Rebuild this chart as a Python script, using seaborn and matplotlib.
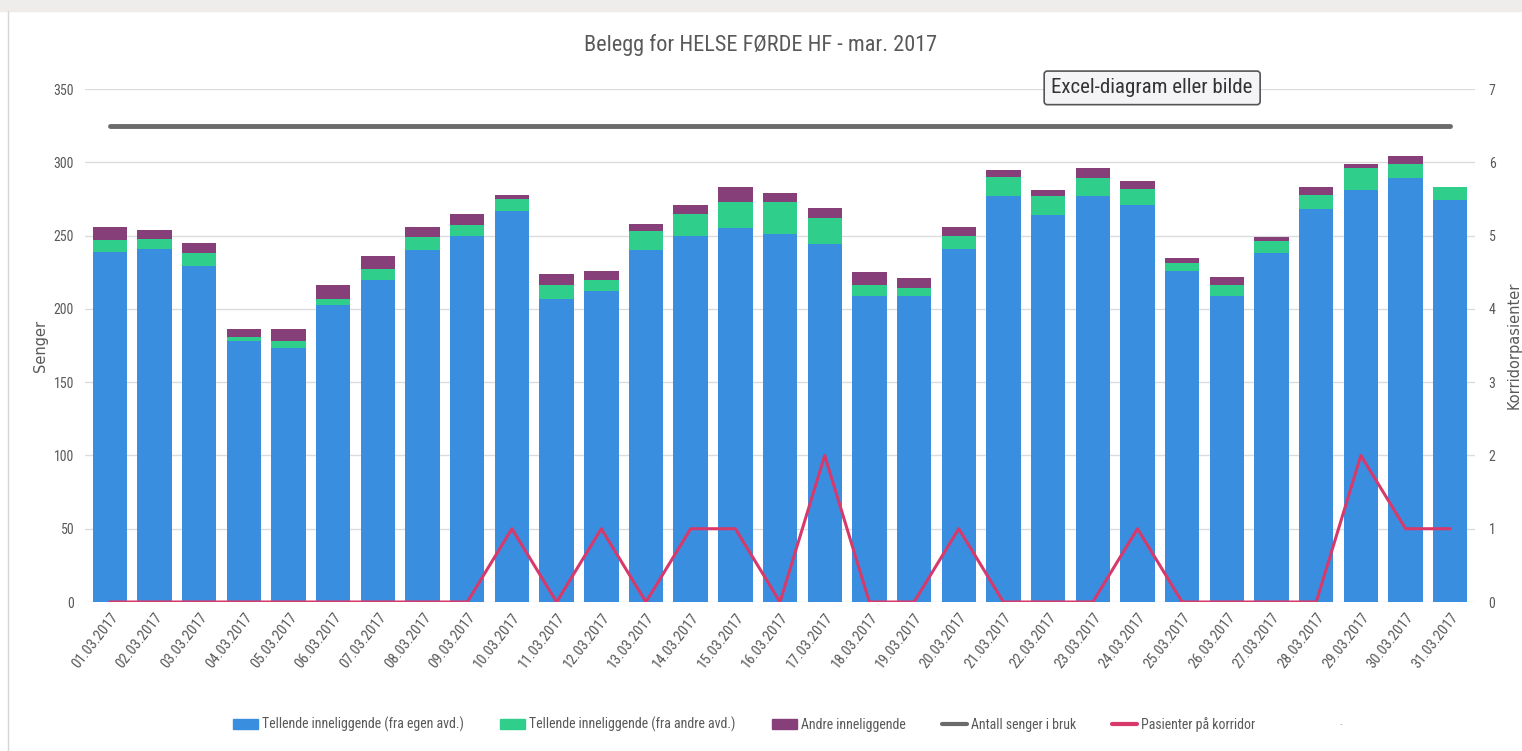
import numpy as np
import pandas as pd
import seaborn as sns
import matplotlib.pyplot as plt
from matplotlib import font_manager
from matplotlib.patches import Patch, Rectangle
from matplotlib.lines import Line2D

# Data
datoer = ["01.03.2017", "02.03.2017", "03.03.2017", "04.03.2017", "05.03.2017",
          "06.03.2017", "07.03.2017", "08.03.2017", "09.03.2017", "10.03.2017",
          "11.03.2017", "12.03.2017", "13.03.2017", "14.03.2017", "15.03.2017",
          "16.03.2017", "17.03.2017", "18.03.2017", "19.03.2017", "20.03.2017",
          "21.03.2017", "22.03.2017", "23.03.2017", "24.03.2017", "25.03.2017",
          "26.03.2017", "27.03.2017", "28.03.2017", "29.03.2017", "30.03.2017",
          "31.03.2017"]
egen_avd = [239, 241, 229, 178, 173, 203, 220, 240, 250, 267,
            207, 212, 240, 250, 255, 251, 244, 209, 209, 241,
            277, 264, 277, 271, 226, 209, 238, 268, 281, 289, 274]
andre_avd = [8, 7, 9, 3, 5, 4, 7, 9, 7, 8,
             9, 8, 13, 15, 18, 22, 18, 7, 5, 9,
             13, 13, 12, 11, 5, 7, 8, 10, 15, 10, 9]
andre_innl = [9, 6, 7, 5, 8, 9, 9, 7, 8, 3,
              8, 6, 5, 6, 10, 6, 7, 9, 7, 6,
              5, 4, 7, 5, 4, 6, 3, 5, 3, 5, 0]
senger_i_bruk = [325, 325, 325, 325, 325, 325, 325, 325, 325, 325,
                 325, 325, 325, 325, 325, 325, 325, 325, 325, 325,
                 325, 325, 325, 325, 325, 325, 325, 325, 325, 325, 325]
korridor = [0, 0, 0, 0, 0, 0, 0, 0, 0, 1,
            0, 1, 0, 1, 1, 0, 2, 0, 0, 1,
            0, 0, 0, 1, 0, 0, 0, 0, 2, 1, 1]

df = pd.DataFrame({"Dato": datoer, "egen": egen_avd, "andre": andre_avd,
                   "innl": andre_innl, "senger": senger_i_bruk, "korridor": korridor})
df["lvl2"] = df["egen"] + df["andre"]
df["lvl3"] = df["lvl2"] + df["innl"]

c_blue = "#3a8ee0"
c_green = "#2fcf8b"
c_purple = "#873f79"
c_gray = "#6a6a6a"
c_red = "#d8396b"
c_text = "#595959"

sns.set_style("white")
# narrow font if available, like the squeezed Excel screenshot
names = {f.name for f in font_manager.fontManager.ttflist}
fams = [n for n in ["Liberation Sans Narrow", "Roboto Condensed", "Open Sans Condensed"] if n in names]
plt.rcParams["font.family"] = fams + ["DejaVu Sans"]
plt.rcParams["font.stretch"] = "condensed"

fig = plt.figure(figsize=(15.22, 7.51), dpi=100)
ax = fig.add_axes([0.056, 0.1984, 0.913, 0.683])

# stacked bars: draw totals first, then smaller levels on top
kw = dict(width=0.77, ax=ax, saturation=1, linewidth=0)
sns.barplot(data=df, x="Dato", y="lvl3", color=c_purple, **kw)
sns.barplot(data=df, x="Dato", y="lvl2", color=c_green, **kw)
sns.barplot(data=df, x="Dato", y="egen", color=c_blue, **kw)

xs = np.arange(len(datoer))
sns.lineplot(x=xs, y=df["senger"], color=c_gray, linewidth=3.5, ax=ax)

ax.set_ylim(0, 350)
ax.set_yticks(range(0, 351, 50))
ax.set_xlim(-0.55, len(datoer) - 0.45)
ax.grid(axis="y", color="#dcdcdc", linewidth=1)
ax.set_axisbelow(True)
for s in ax.spines.values():
    s.set_visible(False)
ax.tick_params(axis="y", length=0, labelsize=10, labelcolor=c_text, pad=8)
ax.tick_params(axis="x", length=0, labelsize=10.5, labelcolor=c_text, pad=6)
plt.setp(ax.get_xticklabels(), rotation=52, ha="right", rotation_mode="anchor")
ax.set_xlabel("")
ax.set_ylabel("Senger", fontsize=10.5, color=c_text, labelpad=4,
              family="DejaVu Sans", fontstretch="normal")

ax2 = ax.twinx()
sns.lineplot(x=xs, y=df["korridor"], color=c_red, linewidth=2.2, ax=ax2)
ax2.set_ylim(0, 7)
ax2.set_yticks(range(0, 8))
for s in ax2.spines.values():
    s.set_visible(False)
ax2.tick_params(axis="y", length=0, labelsize=10, labelcolor=c_text, pad=10)
ax2.set_ylabel("Korridorpasienter", fontsize=10.5, color=c_text, labelpad=8, rotation=90,
               family="DejaVu Sans", fontstretch="normal")

fig.suptitle("Belegg for HELSE FØRDE HF - mar. 2017", y=0.955, fontsize=16, color=c_text)

handles = [Patch(color=c_blue), Patch(color=c_green), Patch(color=c_purple),
           Line2D([], [], color=c_gray, linewidth=3), Line2D([], [], color=c_red, linewidth=3)]
labels = ["Tellende inneliggende (fra egen avd.)", "Tellende inneliggende (fra andre avd.)",
          "Andre inneliggende", "Antall senger i bruk", "Pasienter på korridor"]
fig.legend(handles, labels, loc="center", bbox_to_anchor=(0.489, 0.035), ncol=5,
           frameon=False, fontsize=10, labelcolor=c_text, handlelength=1.8,
           handleheight=0.8, handletextpad=0.3, columnspacing=2.6)
fig.text(0.88, 0.035, "-", fontsize=8, color="#bbbbbb", va="center")

# the placeholder box from the screenshot
fig.text(0.757, 0.883, "Excel-diagram eller bilde", fontsize=15, color="#333333",
         ha="center", va="center",
         bbox=dict(boxstyle="round,pad=0.35,rounding_size=0.15", fc="#f4f4f7",
                   ec="#555555", lw=1.2))

# screenshot frame: gray strip on top and thin left border
fig.patches.append(Rectangle((0, 0.986), 1, 0.014, transform=fig.transFigure,
                             color="#efedeb", zorder=0))
fig.add_artist(Line2D([0.005, 0.005], [0, 0.986], transform=fig.transFigure,
                      color="#d6d6d6", linewidth=1))

fig.savefig("out.png", dpi=100, facecolor="white")
